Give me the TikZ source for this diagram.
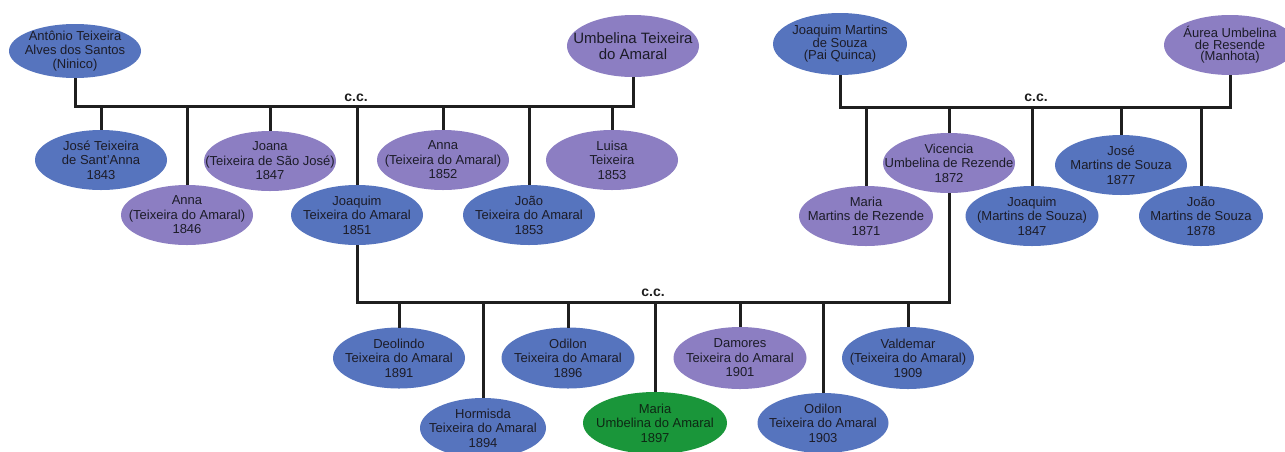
\documentclass[tikz,border=0pt]{standalone}
\usepackage{fontspec}
\setmainfont{Liberation Sans}
\usetikzlibrary{shapes.geometric}
\definecolor{pblue}{RGB}{86,116,190}
\definecolor{ppurple}{RGB}{140,126,194}
\definecolor{pgreen}{RGB}{26,150,58}
\definecolor{ink}{RGB}{28,28,40}
\definecolor{inkg}{RGB}{14,40,20}
\begin{document}
\begin{tikzpicture}[x=1pt,y=-1pt,
  person/.style={ellipse, minimum width=132pt, minimum height=60pt, inner sep=0pt, outer sep=0pt},
  blu/.style={person, fill=pblue},
  pur/.style={person, fill=ppurple},
  grn/.style={person, fill=pgreen, minimum width=144pt, minimum height=62pt},
  txt/.style={align=center, inner sep=0pt, text=ink, font=\fontsize{13}{14.5}\selectfont},
  conn/.style={line width=3pt, draw=black!88, line join=miter},
  cc/.style={font=\bfseries\fontsize{14}{14}\selectfont, inner sep=0pt, text=black!88}
]
\clip (0,0) rectangle (1285,451);
\fill[white] (0,0) rectangle (1285,451);

% ---------- left family ----------
\node[blu, minimum height=54pt, label={[txt, font=\fontsize{13}{14}\selectfont]center:{Antônio Teixeira\\Alves dos Santos\\(Ninico)}}] (ant) at (75,51) {};
\node[pur, minimum height=62pt, label={[txt, font=\fontsize{15}{16}\selectfont]center:{Umbelina Teixeira\\do Amaral}}] (umb) at (633,46) {};

\node[blu, label={[txt]center:{José Teixeira\\de Sant’Anna\\1843}}] (jose43) at (101,160) {};
\node[pur, label={[txt]center:{Anna\\(Teixeira do Amaral)\\1846}}] (anna46) at (187,215) {};
\node[pur, label={[txt]center:{Joana\\(Teixeira de São José)\\1847}}] (joana) at (270,161) {};
\node[blu, label={[txt]center:{Joaquim\\Teixeira do Amaral\\1851}}] (joaq51) at (357,215) {};
\node[pur, label={[txt]center:{Anna\\(Teixeira do Amaral)\\1852}}] (anna52) at (443,160) {};
\node[blu, label={[txt]center:{João\\Teixeira do Amaral\\1853}}] (joao53) at (529,215) {};
\node[pur, label={[txt]center:{Luisa\\Teixeira\\1853}}] (luisa) at (612,160) {};

% ---------- right family ----------
\node[blu, minimum width=134pt, minimum height=62pt, label={[txt, font=\fontsize{13}{12.5}\selectfont]center:{Joaquim Martins\\de Souza\\(Pai Quinca)}}] (jms) at (840,44) {};
\node[pur, label={[txt, font=\fontsize{13}{11.5}\selectfont]center:{Áurea Umbelina\\de Resende\\(Manhota)}}] (aur) at (1230,45) {};

\node[pur, minimum width=134pt, label={[txt]center:{Maria\\Martins de Rezende\\1871}}] (maria71) at (866,216) {};
\node[pur, label={[txt]center:{Vicencia\\Umbelina de Rezende\\1872}}] (vic) at (949,163) {};
\node[blu, minimum width=133pt, label={[txt]center:{Joaquim\\(Martins de Souza)\\1847}}] (joaq47) at (1032,216) {};
\node[blu, label={[txt]center:{José\\Martins de Souza\\1877}}] (jose77) at (1121,165) {};
\node[blu, minimum width=124pt, label={[txt]center:{João\\Martins de Souza\\1878}}] (joao78) at (1201,216) {};

% ---------- children of Joaquim & Vicencia ----------
\node[blu, minimum height=61pt, label={[txt]center:{Deolindo\\Teixeira do Amaral\\1891}}] (deo) at (399,358) {};
\node[blu, minimum width=126pt, label={[txt]center:{Hormisda\\Teixeira do Amaral\\1894}}] (hor) at (483,428) {};
\node[blu, minimum width=133pt, minimum height=61pt, label={[txt]center:{Odilon\\Teixeira do Amaral\\1896}}] (odi96) at (568,358) {};
\node[grn, label={[txt, text=inkg]center:{Maria\\Umbelina do Amaral\\1897}}] (mar97) at (655,423) {};
\node[pur, minimum width=133pt, minimum height=62pt, label={[txt]center:{Damores\\Teixeira do Amaral\\1901}}] (dam) at (740,358) {};
\node[blu, minimum width=131pt, label={[txt]center:{Odilon\\Teixeira do Amaral\\1903}}] (odi03) at (823,423) {};
\node[blu, minimum height=62pt, label={[txt]center:{Valdemar\\(Teixeira do Amaral)\\1909}}] (val) at (908,358) {};

% ---------- c.c. marks ----------
\node[cc] (ccL) at (356,98) {c.c.};
\node[cc] (ccR) at (1036,98) {c.c.};
\node[cc] (ccB) at (653,293) {c.c.};

% ---------- connectors ----------
\coordinate (barL) at (0,106);
\coordinate (barR) at (0,107);
\coordinate (barB) at (0,302);

\draw[conn] (ant.south) -- (ant.south |- barL) -- (umb.south |- barL) -- (umb.south);
\foreach \c in {jose43,anna46,joana,joaq51,anna52,joao53,luisa}
  \draw[conn] (\c.north |- barL) -- (\c.north);

\draw[conn] (jms.south) -- (jms.south |- barR) -- (aur.south |- barR) -- (aur.south);
\foreach \c in {maria71,vic,joaq47,jose77,joao78}
  \draw[conn] (\c.north |- barR) -- (\c.north);

\draw[conn] (joaq51.south) -- (joaq51.south |- barB) -- (vic.south |- barB) -- (vic.south);
\foreach \c in {deo,hor,odi96,mar97,dam,odi03,val}
  \draw[conn] (\c.north |- barB) -- (\c.north);
\end{tikzpicture}
\end{document}
